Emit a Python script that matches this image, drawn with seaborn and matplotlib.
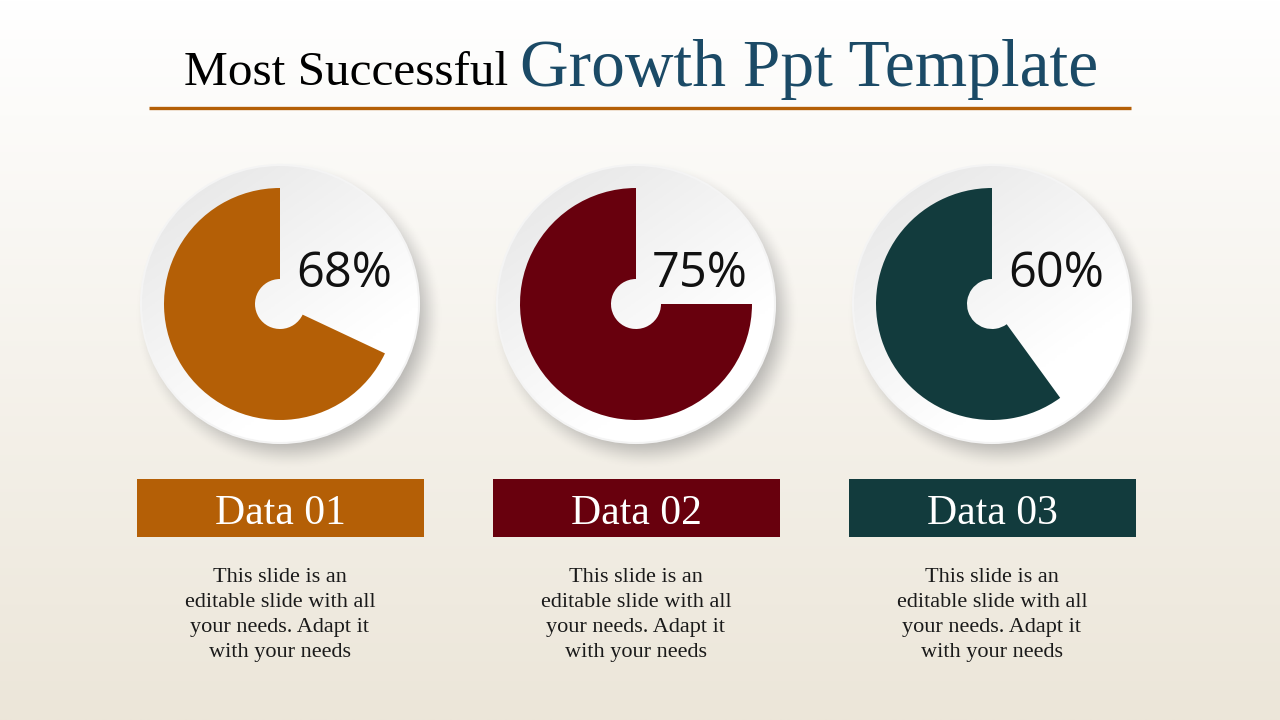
import matplotlib.pyplot as plt
import matplotlib.patches as mpatches
import numpy as np
import seaborn as sns

# slide content
percents = [68, 75, 60]
labels = ["Data 01", "Data 02", "Data 03"]
colors = ["#B45F06", "#68000D", "#123B3D"]
body = "This slide is an\neditable slide with all\nyour needs. Adapt it\nwith your needs"
title_a = "Most Successful"
title_b = "Growth Ppt Template"

sns.set_theme(style="white")
plt.rcParams["font.family"] = ["Liberation Serif", "DejaVu Serif"]

W, H = 1280, 720
fig = plt.figure(figsize=(12.8, 7.2), dpi=100)
ax = fig.add_axes([0, 0, 1, 1])

# background: white at top, beige at bottom
top = np.array([255, 255, 255]) / 255
bot = np.array([236, 230, 217]) / 255
t = np.linspace(0, 1, 256)[:, None]
grad = top * (1 - t) + bot * t
ax.imshow(grad[:, None, :].repeat(2, axis=1), extent=(0, W, 0, H), aspect="auto",
          origin="upper", zorder=0)

centers = [280, 636, 992]
cy = H - 304
R_out, R_pie, R_hole = 139, 116, 25

for cx, p, c in zip(centers, percents, colors):
    # soft shadow down-right
    n = 220
    xs = np.linspace(cx - R_out - 50, cx + R_out + 50, n)
    ys = np.linspace(cy - R_out - 50, cy + R_out + 50, n)
    X, Y = np.meshgrid(xs, ys)
    d = np.hypot(X - (cx + 9), Y - (cy - 11))
    a = np.clip((R_out + 16 - d) / 34, 0, 1)
    a = a * a * (3 - 2 * a) * 0.5
    sh = np.zeros((n, n, 4))
    sh[..., :3] = 0.48
    sh[..., 3] = a
    ax.imshow(sh, extent=(xs[0], xs[-1], ys[0], ys[-1]), origin="lower", zorder=1)

    # white disc, grey at top-left fading to white at bottom-right
    disc = mpatches.Circle((cx, cy), R_out, facecolor="white",
                           edgecolor="none", zorder=2)
    ax.add_patch(disc)
    m = 100
    gx, gy = np.meshgrid(np.linspace(0, 1, m), np.linspace(0, 1, m))
    g = np.clip((gx * 0.7 + gy * 1.0) / 1.2, 0, 1)
    shade = 0.895 + 0.105 * g
    img = np.dstack([shade, shade, shade])
    im = ax.imshow(img, extent=(cx - R_out, cx + R_out, cy - R_out, cy + R_out),
                   origin="upper", zorder=3)
    im.set_clip_path(disc)
    ring = mpatches.Circle((cx, cy), R_out, facecolor="none",
                           edgecolor="#F4F4F4", lw=1.5, zorder=3.5)
    ax.add_patch(ring)

    wedges, _ = ax.pie([p, 100 - p], colors=[c, (0, 0, 0, 0)], startangle=90,
                       counterclock=True, radius=R_pie, center=(cx, cy),
                       wedgeprops=dict(width=R_pie - R_hole, linewidth=0))
    for w in wedges:
        w.set_zorder(4)

    ax.text(cx + 16, H - 287, f"{p}%", fontsize=35, family=["Open Sans", "DejaVu Sans"],
            color="#111111", ha="left", va="baseline", zorder=5)

# label boxes
ax.bar(centers, height=58, width=287, bottom=H - 537, color=colors,
       linewidth=0, zorder=2)
for cx, lab in zip(centers, labels):
    ax.text(cx, H - 524, lab, fontsize=30, color="white", ha="center",
            va="baseline", zorder=3)
    ax.text(cx, H - 568, body, fontsize=16, color="#1A1A1A", ha="center",
            va="top", linespacing=1.44, zorder=3)

# title
ax.text(508, H - 85, title_a, fontsize=35.5, color="black", ha="right", va="baseline")
ax.text(520, H - 86, title_b, fontsize=48.5, color="#1B4A66", ha="left", va="baseline")
ax.plot([149, 1131], [H - 108, H - 108], color="#B45F06", lw=2.4, solid_capstyle="butt")

ax.set_xlim(0, W)
ax.set_ylim(0, H)
ax.set_aspect("auto")
ax.axis("off")

fig.savefig("out.png", dpi=100)
